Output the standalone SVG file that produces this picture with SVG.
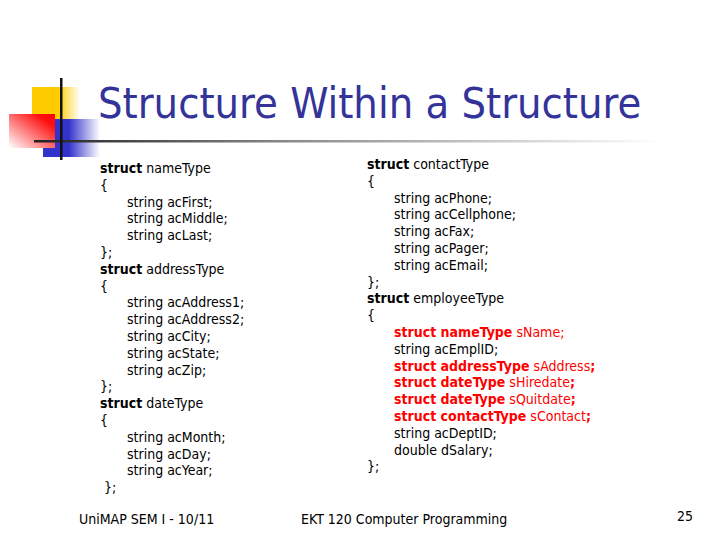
<svg xmlns="http://www.w3.org/2000/svg" width="720" height="540" viewBox="0 0 720 540">
<defs>
<linearGradient id="gY" x1="0" y1="0" x2="1" y2="0">
<stop offset="0" stop-color="#FFCC00"/>
<stop offset="0.55" stop-color="#FFCC00"/>
<stop offset="1" stop-color="#FFFFFF"/>
</linearGradient>
<linearGradient id="gB" x1="0" y1="0" x2="1" y2="0">
<stop offset="0" stop-color="#3333CC"/>
<stop offset="0.45" stop-color="#3333CC"/>
<stop offset="1" stop-color="#FFFFFF"/>
</linearGradient>
<linearGradient id="gR" x1="1" y1="0" x2="0" y2="1">
<stop offset="0" stop-color="#FF0000"/>
<stop offset="0.2" stop-color="#FF1010"/>
<stop offset="1" stop-color="#FFFFFF"/>
</linearGradient>
<linearGradient id="gL" gradientUnits="userSpaceOnUse" x1="34" y1="0" x2="660" y2="0">
<stop offset="0" stop-color="#222222"/>
<stop offset="0.4" stop-color="#888888"/>
<stop offset="1" stop-color="#FFFFFF"/>
</linearGradient>
</defs>
<style>
text{font-family:"DejaVu Sans Condensed","DejaVu Sans",sans-serif;font-stretch:condensed;font-size:14px;fill:#000}
.b{font-weight:bold}
.r{fill:#FF0000}
.title{font-size:43px;fill:#333399}
.foot{font-size:14px}
</style>
<rect width="720" height="540" fill="#FFFFFF"/>
<g id="logo">
<rect x="32" y="87" width="48" height="32" fill="url(#gY)"/>
<rect x="43" y="119" width="57" height="38" fill="url(#gB)"/>
<rect x="9" y="114" width="46" height="34" fill="url(#gR)"/>
<rect x="34" y="140" width="626" height="2.5" fill="url(#gL)"/>
<rect x="60" y="78" width="2.5" height="82" fill="#111111"/>
</g>
<g id="title">
<text class="title" x="98" y="118">Structure Within a Structure</text>
</g>
<g id="left-column">
<text x="100" y="173"><tspan class="b">struct</tspan> nameType</text>
<text x="100" y="189.8">{</text>
<text x="127" y="206.6">string acFirst;</text>
<text x="127" y="223.4">string acMiddle;</text>
<text x="127" y="240.2">string acLast;</text>
<text x="100" y="257">};</text>
<text x="100" y="273.8"><tspan class="b">struct</tspan> addressType</text>
<text x="100" y="290.6">{</text>
<text x="127" y="307.4">string acAddress1;</text>
<text x="127" y="324.2">string acAddress2;</text>
<text x="127" y="341">string acCity;</text>
<text x="127" y="357.8">string acState;</text>
<text x="127" y="374.6">string acZip;</text>
<text x="100" y="391.4">};</text>
<text x="100" y="408.2"><tspan class="b">struct</tspan> dateType</text>
<text x="100" y="425">{</text>
<text x="127" y="441.8">string acMonth;</text>
<text x="127" y="458.6">string acDay;</text>
<text x="127" y="475.4">string acYear;</text>
<text x="104" y="492.2">};</text>
</g>
<g id="right-column">
<text x="367" y="169"><tspan class="b">struct</tspan> contactType</text>
<text x="367" y="185.8">{</text>
<text x="394" y="202.6">string acPhone;</text>
<text x="394" y="219.4">string acCellphone;</text>
<text x="394" y="236.2">string acFax;</text>
<text x="394" y="253">string acPager;</text>
<text x="394" y="269.8">string acEmail;</text>
<text x="367" y="286.6">};</text>
<text x="367" y="303.4"><tspan class="b">struct</tspan> employeeType</text>
<text x="367" y="320.2">{</text>
<text class="r" x="394" y="337"><tspan class="b">struct nameType</tspan> sName;</text>
<text x="394" y="353.8">string acEmplID;</text>
<text class="r" x="394" y="370.6"><tspan class="b">struct addressType</tspan> sAddress<tspan class="b">;</tspan></text>
<text class="r" x="394" y="387.4"><tspan class="b">struct dateType</tspan> sHiredate<tspan class="b">;</tspan></text>
<text class="r" x="394" y="404.2"><tspan class="b">struct dateType</tspan> sQuitdate<tspan class="b">;</tspan></text>
<text class="r" x="394" y="421"><tspan class="b">struct contactType</tspan> sContact<tspan class="b">;</tspan></text>
<text x="394" y="437.8">string acDeptID;</text>
<text x="394" y="454.6">double dSalary;</text>
<text x="367" y="471.4">};</text>
</g>
<g id="footer">
<text class="foot" x="79" y="524">UniMAP SEM I - 10/11</text>
<text class="foot" x="301" y="524">EKT 120 Computer Programming</text>
<text class="foot" x="677" y="521">25</text>
</g>
</svg>
